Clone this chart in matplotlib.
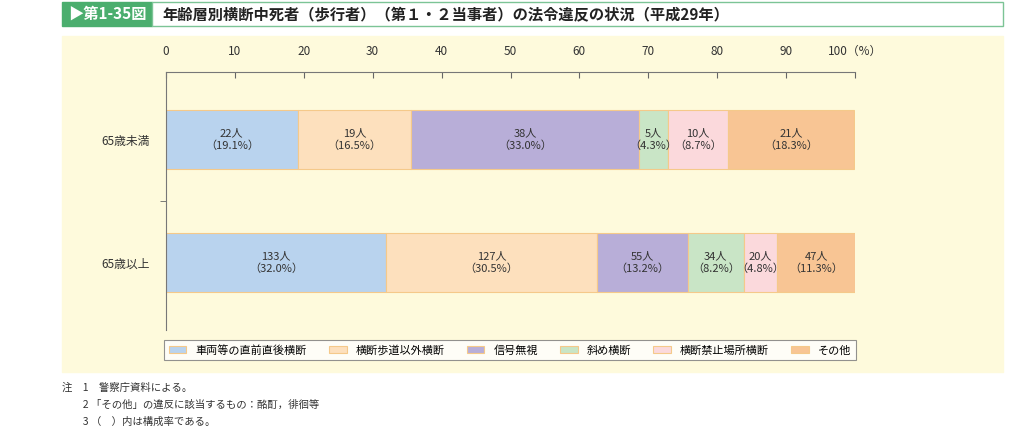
import matplotlib
matplotlib.use("Agg")
import matplotlib.pyplot as plt
from matplotlib.patches import Rectangle

plt.rcParams["font.family"] = "Noto Sans CJK JP"

categories = ["65歳未満", "65歳以上"]
series = ["車両等の直前直後横断", "横断歩道以外横断", "信号無視", "斜め横断", "横断禁止場所横断", "その他"]
counts = [[22, 19, 38, 5, 10, 21], [133, 127, 55, 34, 20, 47]]
pcts = [[19.1, 16.5, 33.0, 4.3, 8.7, 18.3], [32.0, 30.5, 13.2, 8.2, 4.8, 11.3]]
colors = ["#b9d3ee", "#fde0bd", "#b8aed8", "#c9e5c6", "#fbd9dc", "#f8c594"]
xticks = [0, 10, 20, 30, 40, 50, 60, 70, 80, 90, 100]

W, H = 1010, 438
fig = plt.figure(figsize=(W/100, H/100), dpi=100)
fig.patch.set_facecolor("white")

# background panel
fig.patches.append(Rectangle((62/W, 1-372/H), (1003-62)/W, (372-36)/H,
                             transform=fig.transFigure, color="#fefadc", zorder=-2))
# title bar
fig.patches.append(Rectangle((62/W, 1-26/H), 90/W, 24/H, transform=fig.transFigure,
                             color="#4bae6e", zorder=-1))
fig.patches.append(Rectangle((152/W, 1-26/H), (1003-152)/W, 24/H, transform=fig.transFigure,
                             facecolor="white", edgecolor="#7cc496", lw=1, zorder=-1))
fig.text(68/W, 1-14/H, "▶第1-35図", color="white", fontsize=11, fontweight="bold", va="center")
fig.text(162/W, 1-14/H, "年齢層別横断中死者（歩行者）（第１・２当事者）の法令違反の状況（平成29年）",
         fontsize=11, fontweight="bold", va="center", color="#222222")

ax = fig.add_axes([166/W, 1-330/H, (855-166)/W, (330-72)/H])
ax.set_zorder(5)
ax.set_facecolor("none")
ax.set_xlim(0, 100)
ax.set_ylim(2.05, -0.05)
ax.xaxis.tick_top()
ax.set_xticks(xticks)
ax.set_xticklabels([str(t) if t < 100 else "100（%）" for t in xticks], fontsize=8.5, color="#333333")
ax.tick_params(axis="x", direction="in", length=4, pad=10, colors="#666666", labelcolor="#333333")
ax.set_yticks([0.5, 1.5])
ax.set_yticklabels(categories, fontsize=8.5, color="#333333")
ax.set_yticks([1.0], minor=True)
ax.tick_params(axis="y", which="both", length=4, direction="out", colors="#666666", labelcolor="#333333")
ax.tick_params(axis="y", which="major", length=0, pad=12)
for s in ["right", "bottom"]:
    ax.spines[s].set_visible(False)
for s in ["top", "left"]:
    ax.spines[s].set_color("#777777")

for i, cat in enumerate(categories):
    left = 0
    for j in range(len(series)):
        p = pcts[i][j]
        ax.barh(i + 0.5, p, left=left, height=0.48, color=colors[j],
                edgecolor="#f5c98a", lw=0.8, label=series[j] if i == 0 else None)
        ax.text(left + p/2, i + 0.5, f"{counts[i][j]}人\n（{p:.1f}%）", ha="center", va="center",
                fontsize=8, color="#333333", linespacing=1.3)
        left += p

leg = fig.legend(loc="center", bbox_to_anchor=(510/W, 1-350/H), ncol=6, fontsize=8,
                 frameon=True, edgecolor="#777777", fancybox=False, handlelength=1.6,
                 handleheight=0.7, columnspacing=2.0, borderpad=0.4)
leg.get_frame().set_facecolor("white")
leg.get_frame().set_linewidth(0.8)

notes = ["注　1　警察庁資料による。",
         "　　2 「その他」の違反に該当するもの：酩酊，徘徊等",
         "　　3 （　）内は構成率である。"]
for k, t in enumerate(notes):
    fig.text(62/W, 1-(388+k*17)/H, t, fontsize=7.5, va="center", color="#333333")

fig.savefig("out.png", dpi=100)
